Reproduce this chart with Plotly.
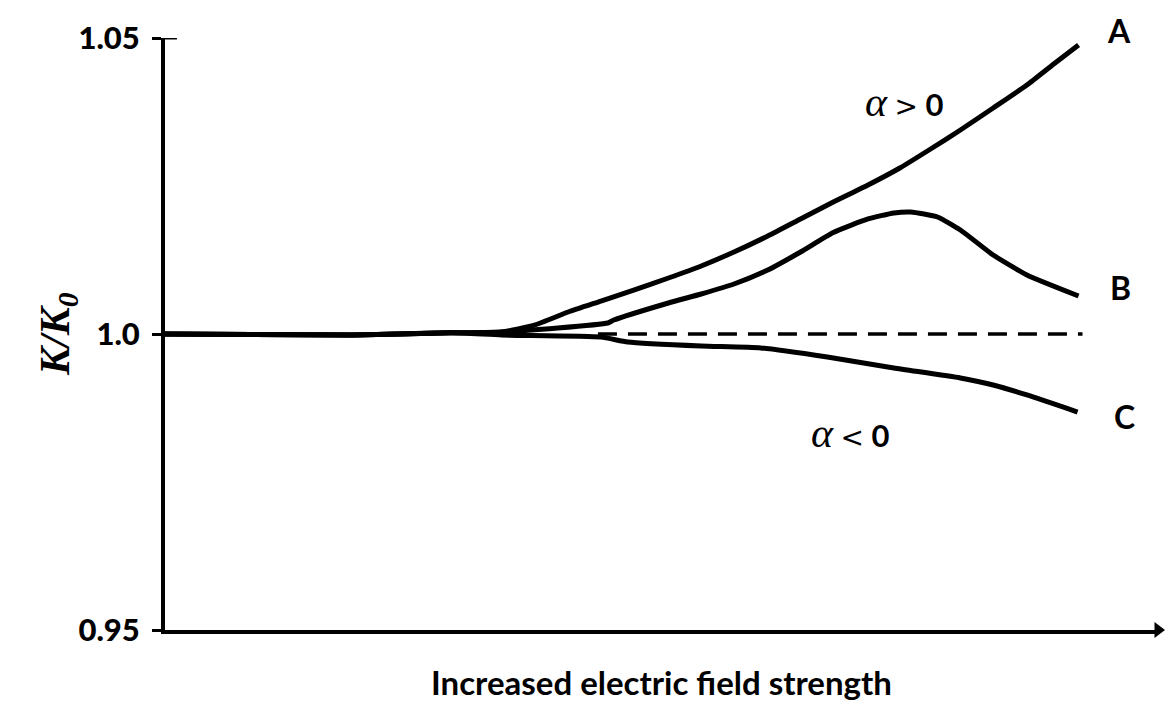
import plotly.graph_objects as go

# ---- data (x: relative field strength 0-100, y: K/K0) ----
x_A = [0, 8.7, 18.8, 28.8, 33.9, 37.2, 40.6, 43.9, 47.2, 50.7, 54.0, 57.3, 60.7, 64.0, 67.3, 70.8, 74.0,
       77.1, 80.1, 83.4, 86.8, 89.5, 92.0]
y_A = [1.0, 0.99992, 0.99983, 1.0002, 1.00034, 1.0015, 1.00372, 1.00557, 1.00743, 1.00946, 1.01149, 1.01385,
       1.01655, 1.01943, 1.0223, 1.02517, 1.02804, 1.03125, 1.03446, 1.03818, 1.04206, 1.04561, 1.04882]

x_B = [0, 8.7, 18.8, 28.8, 33.9, 44.6, 45.2, 50.7, 54.0, 57.3, 60.7, 64.0, 67.3, 70.8, 73.4, 75.1, 77.8,
       80.1, 83.4, 86.8, 92.0]
y_B = [1.0, 0.99992, 0.99983, 1.0002, 1.00034, 1.00186, 1.00236, 1.00524, 1.00676, 1.00845, 1.01081, 1.01385,
       1.01715, 1.01943, 1.02044, 1.02061, 1.01976, 1.01757, 1.01334, 1.00997, 1.00642]

x_C = [0, 8.7, 18.8, 28.8, 33.9, 43.9, 46.6, 54.0, 60.0, 66.7, 73.4, 80.1, 83.4, 86.8, 91.9]
y_C = [1.0, 0.99992, 0.99983, 1.0002, 0.99983, 0.99949, 0.99865, 0.99797, 0.99764, 0.99611, 0.99426, 0.99257,
       0.99139, 0.9897, 0.98682]

x_ref = [43.6, 92.4]
y_ref = [1.0, 1.0]

y_ticks = [0.95, 1.0, 1.05]
y_ticklabels = ["0.95", "1.0", "1.05"]

curve_labels = ["A", "B", "C"]

fig = go.Figure()
line_style = dict(color="black", width=5, shape="spline", smoothing=0.5)
for xs, ys, name in [(x_A, y_A, "A"), (x_B, y_B, "B"), (x_C, y_C, "C")]:
    fig.add_trace(go.Scatter(x=xs, y=ys, mode="lines", line=line_style, name=name,
                             showlegend=False, hoverinfo="skip"))
fig.add_trace(go.Scatter(x=x_ref, y=y_ref, mode="lines",
                         line=dict(color="black", width=3.5, dash="19px,11px"),
                         showlegend=False, hoverinfo="skip"))

# x-axis arrow head (marker at the end of the axis)
fig.add_trace(go.Scatter(x=[100], y=[0.95], mode="markers", cliponaxis=False,
                         marker=dict(symbol="triangle-right", size=14, color="black"),
                         showlegend=False, hoverinfo="skip"))

# curve end labels
label_font = dict(family="Lato", size=32, color="black", weight="bold")
fig.add_annotation(x=x_A[-1], y=y_A[-1], text=curve_labels[0], showarrow=False,
                   xshift=40, yshift=14, font=label_font)
fig.add_annotation(x=x_B[-1], y=y_B[-1], text=curve_labels[1], showarrow=False,
                   xshift=42, yshift=8, font=label_font)
fig.add_annotation(x=x_C[-1], y=y_C[-1], text=curve_labels[2], showarrow=False,
                   xshift=47, yshift=-4, font=label_font)

alpha_font = dict(family="Lato", size=31, color="black", weight="bold")
alpha_span = "<span style='font-family:Liberation Serif;font-size:42px;font-weight:normal'><i>α</i></span>"
gt_span = "<span style='font-family:DejaVu Sans;font-size:28px;font-weight:normal'>&gt;</span>"
lt_span = "<span style='font-family:DejaVu Sans;font-size:28px;font-weight:normal'>&lt;</span>"
fig.add_annotation(x=74.5, y=1.0392, showarrow=False, font=alpha_font,
                   text=alpha_span + " " + gt_span + " 0")
fig.add_annotation(x=69.0, y=0.9833, showarrow=False, font=alpha_font,
                   text=alpha_span + " " + lt_span + " 0")

# axis titles
fig.add_annotation(xref="paper", yref="paper", x=-0.136, y=0.5, textangle=-90,
                   showarrow=False, text="<b><i>K/K<sub>0</sub></i></b>",
                   font=dict(family="Liberation Serif", size=42, color="black"))
fig.add_annotation(xref="paper", yref="paper", x=0.5, y=-0.088, yanchor="middle",
                   showarrow=False, text="Increased electric field strength",
                   font=dict(family="Lato", size=33, color="black", weight="bold"))

# top tick cap (inner part)
fig.add_shape(type="line", xref="paper", yref="y", x0=-0.002, x1=0.012, y0=1.05, y1=1.05,
              line=dict(color="black", width=3))

fig.update_layout(
    width=1167, height=704,
    margin=dict(l=165, r=9, t=38, b=74),
    paper_bgcolor="white", plot_bgcolor="white",
    xaxis=dict(range=[0, 100], showgrid=False, zeroline=False, showticklabels=False,
               ticks="", showline=True, linecolor="black", linewidth=4),
    yaxis=dict(range=[0.95, 1.05], showgrid=False, zeroline=False,
               tickvals=y_ticks, ticktext=y_ticklabels, ticks="outside", ticklen=9,
               tickwidth=3, tickcolor="black", showline=True, linecolor="black",
               linewidth=4, ticklabelstandoff=6,
               tickfont=dict(family="Lato", size=31, color="black", weight=900)),
)

fig.write_html("out.html")
